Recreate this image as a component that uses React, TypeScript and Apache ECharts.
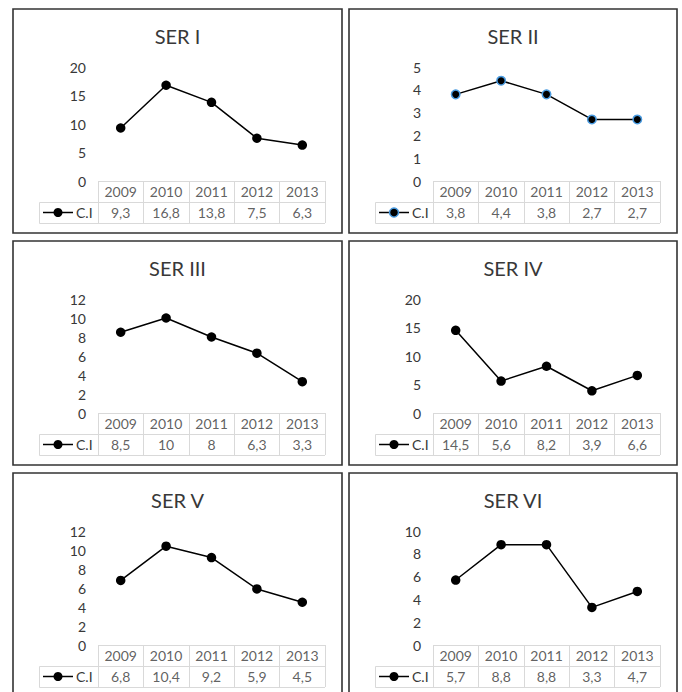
import React, { useEffect, useRef } from 'react';
import * as echarts from 'echarts';

// ---- data ----
const years = ['2009', '2010', '2011', '2012', '2013'];
const titles = ['SER I', 'SER II', 'SER III', 'SER IV', 'SER V', 'SER VI'];
const serI = [9.3, 16.8, 13.8, 7.5, 6.3];
const serII = [3.8, 4.4, 3.8, 2.7, 2.7];
const serIII = [8.5, 10, 8, 6.3, 3.3];
const serIV = [14.5, 5.6, 8.2, 3.9, 6.6];
const serV = [6.8, 10.4, 9.2, 5.9, 4.5];
const serVI = [5.7, 8.8, 8.8, 3.3, 4.7];
const yMaxs = [20, 5, 12, 20, 12, 10];
const ySteps = [5, 1, 2, 5, 2, 2];
const seriesName = 'C.I';

const allSeries = [serI, serII, serIII, serIV, serV, serVI];

// ---- layout ----
const colLeft = [13, 349];
const colRight = [342, 677];
const rowTop = [9, 241, 473];
const panelH = 224;
const gridLeftOff = [85, 84];
const gridW = 227;
const legendLeftOff = [26, 26];
const plotTopOff = 58;
const plotBottomOff = 172;
const rowH = 21;

const FONT = 'Lato, "Open Sans", sans-serif';
const TEXT = '#383838';
const CELL = '#d9d9d9';
const BLUE = '#4a9be0';

const fmt = (v: number) => String(v).replace('.', ',');

function buildOption() {
  const grid: any[] = [];
  const xAxis: any[] = [];
  const yAxis: any[] = [];
  const series: any[] = [];
  const title: any[] = [];
  const graphic: any[] = [];

  for (let i = 0; i < 6; i++) {
    const col = i % 2;
    const row = Math.floor(i / 2);
    const px = colLeft[col];
    const py = rowTop[row];
    const gl = px + gridLeftOff[col];
    const isBlue = i === 1;

    // panel border
    graphic.push({
      type: 'rect',
      silent: true,
      shape: { x: px, y: py, width: colRight[col] - px, height: panelH },
      style: { fill: 'none', stroke: '#333', lineWidth: 1.6 },
    });

    title.push({
      text: titles[i],
      left: (px + colRight[col]) / 2,
      top: py + 15,
      padding: 0,
      textAlign: 'center',
      textStyle: { fontFamily: FONT, fontSize: 20, fontWeight: 'normal', color: TEXT, lineHeight: 24 },
    });

    // plot grid
    grid.push({ left: gl, top: py + plotTopOff, width: gridW, height: plotBottomOff - plotTopOff });
    // table grid
    grid.push({ left: gl, top: py + plotBottomOff, width: gridW, height: rowH * 2 });

    xAxis.push({
      type: 'category',
      gridIndex: 2 * i,
      data: years,
      boundaryGap: true,
      show: false,
    });
    yAxis.push({
      type: 'value',
      gridIndex: 2 * i,
      min: 0,
      max: yMaxs[i],
      interval: ySteps[i],
      axisLine: { show: false },
      axisTick: { show: false },
      splitLine: { show: false },
      axisLabel: { color: TEXT, fontFamily: FONT, fontSize: 14, margin: 12 },
    });

    xAxis.push({
      type: 'category',
      gridIndex: 2 * i + 1,
      data: years,
      boundaryGap: true,
      axisLine: { show: false },
      axisTick: { show: false },
      axisLabel: { show: false },
      splitLine: { show: true, interval: 0, lineStyle: { color: CELL, width: 1 } },
    });
    yAxis.push({
      type: 'value',
      gridIndex: 2 * i + 1,
      min: 0,
      max: 2,
      interval: 1,
      axisLine: { show: false },
      axisTick: { show: false },
      axisLabel: { show: false },
      splitLine: { show: true, lineStyle: { color: CELL, width: 1 } },
    });

    series.push({
      type: 'line',
      name: seriesName,
      xAxisIndex: 2 * i,
      yAxisIndex: 2 * i,
      data: allSeries[i],
      symbol: 'circle',
      symbolSize: isBlue ? 8.5 : 9.5,
      lineStyle: { color: '#000', width: 1.5 },
      itemStyle: isBlue
        ? { color: '#000', borderColor: BLUE, borderWidth: 1.5 }
        : { color: '#000' },
      silent: true,
    });

    const cells: any[] = [];
    years.forEach((y, k) => {
      cells.push([k, 1.5, y]);
      cells.push([k, 0.5, fmt(allSeries[i][k])]);
    });
    series.push({
      type: 'scatter',
      xAxisIndex: 2 * i + 1,
      yAxisIndex: 2 * i + 1,
      data: cells,
      symbol: 'rect',
      symbolSize: 1,
      itemStyle: { color: 'rgba(0,0,0,0)' },
      silent: true,
      label: {
        show: true,
        position: 'inside',
        formatter: (p: any) => p.value[2],
        color: TEXT,
        fontFamily: FONT,
        fontSize: 14,
      },
    });

    // legend cell
    const lx = px + legendLeftOff[col];
    const ly = py + plotBottomOff + rowH;
    const cy = ly + rowH / 2;
    graphic.push({
      type: 'rect',
      silent: true,
      shape: { x: lx + 0.5, y: ly + 0.5, width: gl - lx, height: rowH },
      style: { fill: 'none', stroke: CELL, lineWidth: 1 },
    });
    graphic.push({
      type: 'line',
      silent: true,
      shape: { x1: lx + 4, y1: cy, x2: lx + 34, y2: cy },
      style: { stroke: '#000', lineWidth: 1.5 },
    });
    graphic.push({
      type: 'circle',
      silent: true,
      shape: { cx: lx + 19, cy, r: 4.5 },
      style: isBlue ? { fill: '#000', stroke: BLUE, lineWidth: 1.5 } : { fill: '#000' },
    });
    graphic.push({
      type: 'text',
      silent: true,
      x: lx + 37,
      y: cy,
      style: {
        text: seriesName,
        fill: TEXT,
        fontFamily: FONT,
        fontSize: 14,
        align: 'left',
        verticalAlign: 'middle',
      },
    });
  }

  return {
    animation: false,
    backgroundColor: '#fff',
    title,
    grid,
    xAxis,
    yAxis,
    series,
    graphic,
  };
}

export default function App() {
  const ref = useRef<HTMLDivElement>(null);
  useEffect(() => {
    if (!ref.current) return;
    const chart = echarts.init(ref.current, null, { renderer: 'svg' });
    chart.setOption(buildOption() as any);
    return () => chart.dispose();
  }, []);
  return (
    <div
      ref={ref}
      style={{ position: 'absolute', left: 0, top: 0, width: 682, height: 692, background: '#fff' }}
    />
  );
}
